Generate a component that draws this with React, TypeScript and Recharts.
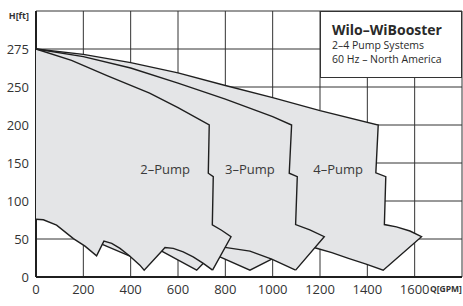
import React from 'react';
import { ScatterChart, Scatter, XAxis, YAxis, CartesianGrid, ReferenceDot } from 'recharts';

const FONT = "'Open Sans', 'Noto Sans', sans-serif";
const FILL = '#e4e5e7';
const INK = '#1f1f1f';

const xTicks = [0, 200, 400, 600, 800, 1000, 1200, 1400, 1600, 1800];
const yTicks = [0, 50, 100, 150, 200, 250, 300, 350];
// the sheet labels its 300 line "275"
const yTickLabels: Record<number, string> = { 300: '275', 350: 'H[ft]' };
const xEndLabel = 'Q[GPM]';

// [Q gpm, H]
const top2 = [[0, 300], [150, 285], [300, 265], [480, 242], [600, 223], [732, 200]];
const top3 = [[0, 300], [200, 290], [400, 275], [600, 255], [800, 234], [1000, 211], [1080, 200]];
const top4 = [[0, 300], [200, 293], [400, 282], [600, 268.5], [800, 252], [1000, 236], [1200, 219], [1446, 200]];

// right edge: step, corner, drop to the V
const edge2 = [[732, 200], [728, 136.5], [749, 132], [745, 68.5], [784, 61.5], [824, 53], [746, 9]];
const edge3 = [[1080, 200], [1070, 136.5], [1104, 132], [1097, 69], [1157, 62], [1218, 53], [1097, 9]];
const edge4 = [[1446, 200], [1436, 137], [1478, 132], [1472, 69], [1523, 66], [1580, 60.5], [1629, 53], [1467, 9]];

// lower limits (sawtooth)
const base = [[0, 76], [31, 75.3], [87, 68.3], [158, 50.5], [207, 40.6], [256, 27.8]];
const rise0 = [[256, 27.8], [280, 42.9], [287, 47.2]];
const min1 = [[287, 47.2], [320, 44.2], [355, 37.6], [397, 27.4], [439, 15.6], [457, 9]];
const tooth1 = [[280, 42.9], [397, 27.4]];
const rise1 = [[457, 9], [531, 34], [545, 38.7]];
const min2 = [[545, 38.7], [580, 37.6], [622, 33], [664, 26.5], [707, 18], [746, 9]];
const tooth2 = [[531, 34], [679, 9], [707, 18]];
const min3 = [[798, 39], [904, 34], [996, 23.5], [1097, 9]];
const tooth3 = [[777, 26.5], [904, 9], [996, 23.5]];
const min4 = [[1178, 38.5], [1250, 32], [1320, 24.5], [1395, 17], [1467, 9]];

const pumpLabels = [
  { name: '2–Pump', q: 546, h: 141 },
  { name: '3–Pump', q: 904, h: 141 },
  { name: '4–Pump', q: 1277, h: 141 },
];

const rev = (a: number[][]) => [...a].reverse();
const last = (a: number[][]) => a[a.length - 1];
const pts = (a: number[][]) => a.map(([q, h]) => ({ q, h }));

// outline of the grey operating field
const field = [
  ...top4,
  ...edge4.slice(1),
  ...rev(min4).slice(1),
  last(edge3),
  ...rev(tooth3),
  last(edge2),
  ...rev(tooth2),
  rise1[0],
  ...rev(tooth1),
  ...rev(base),
  top4[0],
];

const strokes = [
  [...top4, ...edge4.slice(1), ...rev(min4).slice(1)],
  [...top3, ...edge3.slice(1)],
  [...top2, ...edge2.slice(1)],
  [...base, ...rise0.slice(1), ...min1.slice(1), ...rise1.slice(1), ...min2.slice(1)],
  tooth1,
  tooth2,
  tooth3,
  min3,
];

const NoDot = () => <g />;

const XTick = (props: any) => {
  const { x, y, payload } = props;
  if (payload.value === 1800) {
    return (
      <text x={x - 32} y={y} dy="0.85em" fontSize={8.5} fontWeight={700} fill="#333" fontFamily={FONT}>
        {xEndLabel}
      </text>
    );
  }
  return (
    <text x={x} y={y} dy="0.71em" textAnchor="middle" fontSize={13} fill="#333" fontFamily={FONT}>
      {payload.value}
    </text>
  );
};

const YTick = (props: any) => {
  const { x, y, payload } = props;
  const v = payload.value;
  if (v === 350) {
    return (
      <text x={x + 1} y={y + 5} dy="0.355em" textAnchor="end" fontSize={9} fontWeight={700} fill="#333" fontFamily={FONT}>
        {yTickLabels[v]}
      </text>
    );
  }
  return (
    <text x={x + 1} y={y} dy="0.355em" textAnchor="end" fontSize={13} fill="#333" fontFamily={FONT}>
      {yTickLabels[v] ?? v}
    </text>
  );
};

export default function App() {
  return (
    <div style={{ position: 'absolute', left: 0, top: 0, width: 463, height: 306, background: '#fff' }}>
      <ScatterChart width={463} height={306} margin={{ top: 11, right: 1, bottom: 0, left: 0 }}>
        <CartesianGrid stroke="#333" strokeWidth={1} />
        <XAxis
          type="number"
          dataKey="q"
          domain={[0, 1800]}
          ticks={xTicks}
          interval={0}
          height={29}
          tickLine={false}
          axisLine={{ stroke: INK, strokeWidth: 2 }}
          tick={<XTick />}
        />
        <YAxis
          type="number"
          dataKey="h"
          domain={[0, 350]}
          ticks={yTicks}
          interval={0}
          width={36}
          tickLine={false}
          axisLine={{ stroke: INK, strokeWidth: 2 }}
          tick={<YTick />}
        />
        <Scatter
          data={pts(field)}
          line={{ fill: FILL, stroke: 'none' }}
          shape={NoDot}
          isAnimationActive={false}
        />
        {strokes.map((s, i) => (
          <Scatter
            key={i}
            data={pts(s)}
            line={{ fill: 'none', stroke: INK, strokeWidth: 1.4, strokeLinejoin: 'miter' }}
            shape={NoDot}
            isAnimationActive={false}
          />
        ))}
        {pumpLabels.map((l) => (
          <ReferenceDot
            key={l.name}
            x={l.q}
            y={l.h}
            r={0}
            fill="none"
            stroke="none"
            label={{ value: l.name, position: 'center', fill: '#3a3a3a', fontSize: 13, fontFamily: FONT }}
          />
        ))}
      </ScatterChart>
      <div
        style={{
          position: 'absolute',
          left: 320,
          top: 11,
          width: 142,
          height: 67,
          boxSizing: 'border-box',
          border: '1px solid #333',
          background: '#fff',
          fontFamily: FONT,
          color: '#2a2a2a',
        }}
      >
        <div style={{ position: 'absolute', left: 11, top: 11, fontSize: 14, lineHeight: '14px', fontWeight: 700, whiteSpace: 'nowrap' }}>
          Wilo–WiBooster
        </div>
        <div style={{ position: 'absolute', left: 11, top: 26, fontSize: 10.5, lineHeight: '14px', whiteSpace: 'nowrap' }}>
          2–4 Pump Systems
        </div>
        <div style={{ position: 'absolute', left: 11, top: 40, fontSize: 10.5, lineHeight: '14px', whiteSpace: 'nowrap' }}>
          60 Hz – North America
        </div>
      </div>
    </div>
  );
}
